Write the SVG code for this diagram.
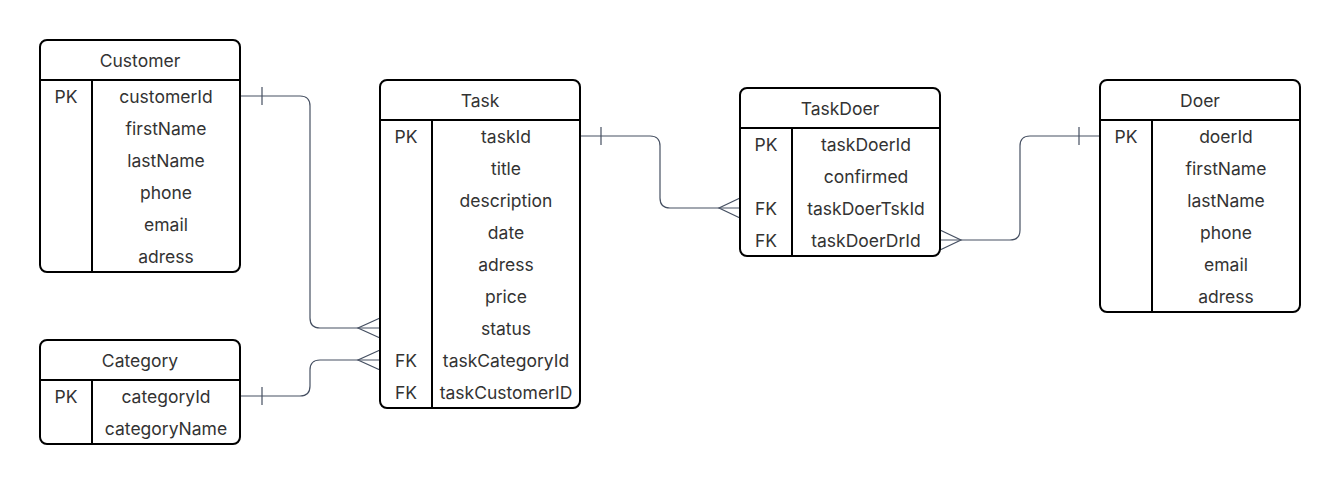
<svg xmlns="http://www.w3.org/2000/svg" width="1340" height="484" viewBox="0 0 1340 484">
<style>
.box{fill:#fff;stroke:#000;stroke-width:2}
.ln{stroke:#000;stroke-width:2;fill:none}
.t{font-family:Inter,"Liberation Sans",sans-serif;font-size:17.5px;fill:#333;text-anchor:middle;dominant-baseline:central}
.c{stroke:#465062;stroke-width:1.2;fill:none}
</style>
<rect width="1340" height="484" fill="#fff"/>
<g id="connectors">
  <!-- Customer -> Task -->
  <path class="c" d="M240 96 H300 Q310 96 310 106 V318 Q310 328 320 328 H380"/>
  <path class="c" d="M262 87 V105 M380 318 L358 328 L380 338"/>
  <!-- Category -> Task -->
  <path class="c" d="M240 396 H300 Q310 396 310 386 V370 Q310 360 320 360 H380"/>
  <path class="c" d="M262 387 V405 M380 350 L358 360 L380 370"/>
  <!-- Task -> TaskDoer -->
  <path class="c" d="M580 136 H650 Q660 136 660 146 V198 Q660 208 670 208 H740"/>
  <path class="c" d="M601 127 V145 M740 198 L719 208 L740 218"/>
  <!-- Doer -> TaskDoer -->
  <path class="c" d="M1100 136 H1030 Q1020 136 1020 146 V230 Q1020 240 1010 240 H940"/>
  <path class="c" d="M1079 127 V145 M940 230 L961 240 L940 250"/>
</g>
<g id="customer">
  <rect class="box" x="40" y="40" width="200" height="232" rx="7"/>
  <path class="ln" d="M40 80 H240 M92 80 V272"/>
  <text class="t" x="140" y="60">Customer</text>
  <text class="t" x="66" y="96">PK</text>
  <text class="t" x="166" y="96">customerId</text>
  <text class="t" x="166" y="128">firstName</text>
  <text class="t" x="166" y="160">lastName</text>
  <text class="t" x="166" y="192">phone</text>
  <text class="t" x="166" y="224">email</text>
  <text class="t" x="166" y="256">adress</text>
</g>
<g id="category">
  <rect class="box" x="40" y="340" width="200" height="104" rx="7"/>
  <path class="ln" d="M40 380 H240 M92 380 V444"/>
  <text class="t" x="140" y="360">Category</text>
  <text class="t" x="66" y="396">PK</text>
  <text class="t" x="166" y="396">categoryId</text>
  <text class="t" x="166" y="428">categoryName</text>
</g>
<g id="task">
  <rect class="box" x="380" y="80" width="200" height="328" rx="7"/>
  <path class="ln" d="M380 120 H580 M432 120 V408"/>
  <text class="t" x="480" y="100">Task</text>
  <text class="t" x="406" y="136">PK</text>
  <text class="t" x="506" y="136">taskId</text>
  <text class="t" x="506" y="168">title</text>
  <text class="t" x="506" y="200">description</text>
  <text class="t" x="506" y="232">date</text>
  <text class="t" x="506" y="264">adress</text>
  <text class="t" x="506" y="296">price</text>
  <text class="t" x="506" y="328">status</text>
  <text class="t" x="406" y="360">FK</text>
  <text class="t" x="506" y="360">taskCategoryId</text>
  <text class="t" x="406" y="392">FK</text>
  <text class="t" x="506" y="392">taskCustomerID</text>
</g>
<g id="taskdoer">
  <rect class="box" x="740" y="88" width="200" height="168" rx="7"/>
  <path class="ln" d="M740 128 H940 M792 128 V256"/>
  <text class="t" x="840" y="108">TaskDoer</text>
  <text class="t" x="766" y="144">PK</text>
  <text class="t" x="866" y="144">taskDoerId</text>
  <text class="t" x="866" y="176">confirmed</text>
  <text class="t" x="766" y="208">FK</text>
  <text class="t" x="866" y="208">taskDoerTskId</text>
  <text class="t" x="766" y="240">FK</text>
  <text class="t" x="866" y="240">taskDoerDrId</text>
</g>
<g id="doer">
  <rect class="box" x="1100" y="80" width="200" height="232" rx="7"/>
  <path class="ln" d="M1100 120 H1300 M1152 120 V312"/>
  <text class="t" x="1200" y="100">Doer</text>
  <text class="t" x="1126" y="136">PK</text>
  <text class="t" x="1226" y="136">doerId</text>
  <text class="t" x="1226" y="168">firstName</text>
  <text class="t" x="1226" y="200">lastName</text>
  <text class="t" x="1226" y="232">phone</text>
  <text class="t" x="1226" y="264">email</text>
  <text class="t" x="1226" y="296">adress</text>
</g>
</svg>
